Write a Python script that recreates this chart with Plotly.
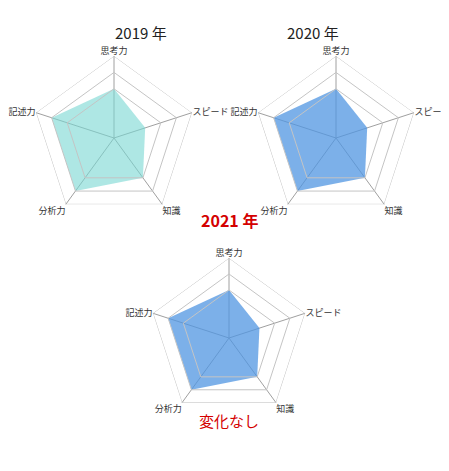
import plotly.graph_objects as go

categories = ["思考力", "スピード", "知識", "分析力", "記述力"]
scores_2019 = [3, 2, 3, 4, 4]
scores_2020 = [3, 2, 3, 4, 4]
scores_2021 = [3, 2, 3, 4, 4]
ring_levels = [3, 4, 5]

W, H = 449, 471


def dom(cx, cy, r):
    return dict(x=[(cx - r) / W, (cx + r) / W], y=[(H - cy - r) / H, (H - cy + r) / H])


def closed(v):
    return v + v[:1]


fig = go.Figure()
series = [
    ("polar", scores_2019, "rgba(120,215,210,0.6)"),
    ("polar2", scores_2020, "rgba(80,150,225,0.75)"),
    ("polar3", scores_2021, "rgba(80,150,225,0.75)"),
]
for sub, vals, col in series:
    fig.add_trace(go.Scatterpolar(
        r=closed(vals), theta=closed(categories), subplot=sub,
        mode="lines", fill="toself", fillcolor=col,
        line=dict(width=0, color=col), showlegend=False, hoverinfo="skip"))
    for lv in ring_levels:
        fig.add_trace(go.Scatterpolar(
            r=[lv] * (len(categories) + 1), theta=closed(categories), subplot=sub,
            mode="lines", line=dict(width=1, color="#c4c4c4"),
            showlegend=False, hoverinfo="skip"))

polar_style = dict(
    bgcolor="white",
    gridshape="linear",
    radialaxis=dict(range=[0, 5], showgrid=False, showticklabels=False,
                    ticks="", showline=False),
    angularaxis=dict(direction="clockwise", rotation=90, showline=False,
                     gridcolor="#a0a0a0", ticks="",
                     tickfont=dict(size=9, color="#333", family="Noto Sans CJK JP")),
)

fig.update_layout(
    width=W, height=H,
    margin=dict(l=0, r=0, t=0, b=0),
    paper_bgcolor="white",
    polar=dict(domain=dict(dom(106, 130, 82)), **polar_style),
    polar2=dict(domain=dict(dom(328, 130, 82)), **polar_style),
    polar3=dict(domain=dict(dom(221, 330, 80)), **polar_style),
    annotations=[
        dict(text="2019 年", x=105 / W, y=1 - 12 / H, xref="paper", yref="paper",
             showarrow=False, font=dict(size=15, color="#222", family="Noto Sans CJK JP")),
        dict(text="2020 年", x=333 / W, y=1 - 12 / H, xref="paper", yref="paper",
             showarrow=False, font=dict(size=15, color="#222", family="Noto Sans CJK JP")),
        dict(text="<b>2021 年</b>", x=221 / W, y=1 - 212 / H, xref="paper", yref="paper",
             showarrow=False, font=dict(size=16, color="#d40000", family="Noto Sans CJK JP")),
        dict(text="変化なし", x=221 / W, y=1 - 425 / H, xref="paper", yref="paper",
             showarrow=False, font=dict(size=15, color="#d40000", family="Noto Sans CJK JP")),
    ],
)

fig.write_html("out.html")
